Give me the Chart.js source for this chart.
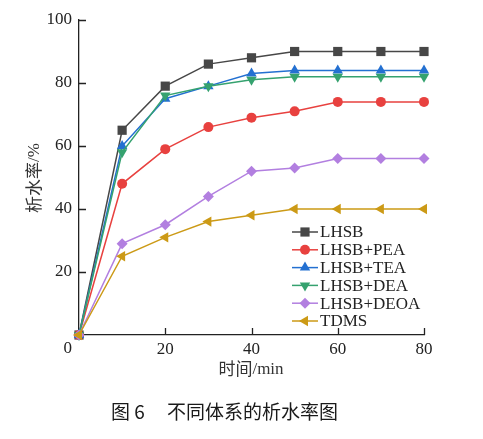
<!DOCTYPE html>
<html>
<head>
<meta charset="utf-8">
<script src="https://cdn.jsdelivr.net/npm/chart.js@4"></script>
<style>
  html, body { margin: 0; padding: 0; background: #fff; }
  #wrap { width: 483px; height: 439px; }
</style>
</head>
<body>
<div id="wrap"><canvas id="waterChart"></canvas></div>
<script>
// data
const times = [0, 10, 20, 30, 40, 50, 60, 70, 80]
const lhsb = [0, 65, 79, 86, 88, 90, 90, 90, 90]
const lhsbPea = [0, 48, 59, 66, 69, 71, 74, 74, 74]
const lhsbTea = [0, 60, 75, 79, 83, 84, 84, 84, 84]
const lhsbDea = [0, 58, 76, 79, 81, 82, 82, 82, 82]
const lhsbDeoa = [0, 29, 35, 44, 52, 53, 56, 56, 56]
const tdms = [0, 25, 31, 36, 38, 40, 40, 40, 40]
const seriesNames = ['LHSB', 'LHSB+PEA', 'LHSB+TEA', 'LHSB+DEA', 'LHSB+DEOA', 'TDMS']
const xTicks = [0, 20, 40, 60, 80]
const yTicks = [0, 20, 40, 60, 80, 100]

const serif = "'Liberation Serif', 'Times New Roman', serif"
const cjk = "'Noto Sans CJK SC', sans-serif"
const ink = '#222'

const styles = [
  { color: '#474747', point: 'rect', radius: 6.5, rotation: 0 },
  { color: '#e8413f', point: 'circle', radius: 5, rotation: 0 },
  { color: '#2370d1', point: 'triangle', radius: 6, rotation: 0 },
  { color: '#35a26f', point: 'triangle', radius: 6, rotation: 180 },
  { color: '#b27fe0', point: 'rectRot', radius: 5.5, rotation: 0 },
  { color: '#cc9a16', point: 'triangle', radius: 6, rotation: -90 },
]
const values = [lhsb, lhsbPea, lhsbTea, lhsbDea, lhsbDeoa, tdms]

const datasets = values.map((v, i) => ({
  label: seriesNames[i],
  data: v.map((y, j) => ({ x: times[j], y: y })),
  borderColor: styles[i].color,
  backgroundColor: styles[i].color,
  borderWidth: 1.5,
  pointStyle: styles[i].point,
  pointRadius: styles[i].radius,
  pointRotation: styles[i].rotation,
  pointBorderWidth: 0,
  tension: 0,
  clip: false,
  order: -i,
}))

// inward ticks, legend, axis titles, caption
const decor = {
  id: 'decor',
  afterDraw(chart) {
    const ctx = chart.ctx
    const xs = chart.scales.x
    const ys = chart.scales.y
    const a = chart.chartArea
    ctx.save()
    ctx.strokeStyle = ink
    ctx.lineWidth = 1.3
    ctx.beginPath()
    xTicks.forEach(t => {
      if (t === 0) return
      const px = Math.round(xs.getPixelForValue(t)) + 0.5
      ctx.moveTo(px, a.bottom)
      ctx.lineTo(px, a.bottom - 7)
    })
    yTicks.forEach(t => {
      if (t === 0) return
      const py = Math.round(ys.getPixelForValue(t)) + 0.5
      ctx.moveTo(a.left, py)
      ctx.lineTo(a.left + 7, py)
    })
    ctx.stroke()

    // shared origin label
    ctx.fillStyle = ink
    ctx.font = '17px ' + serif
    ctx.textAlign = 'right'
    ctx.textBaseline = 'middle'
    ctx.fillText('0', 72, 349)

    // legend
    ctx.textAlign = 'left'
    seriesNames.forEach((name, i) => {
      const y = 232 + i * 17.8
      ctx.strokeStyle = styles[i].color
      ctx.lineWidth = 1.5
      ctx.beginPath()
      ctx.moveTo(292, y)
      ctx.lineTo(318, y)
      ctx.stroke()
      ctx.fillStyle = styles[i].color
      Chart.helpers.drawPoint(ctx, {
        pointStyle: styles[i].point,
        radius: styles[i].radius,
        rotation: styles[i].rotation,
        borderWidth: 0,
      }, 305, y)
      ctx.fillStyle = ink
      ctx.font = '17px ' + serif
      ctx.fillText(name, 320, y + 1)
    })

    // x title
    ctx.fillStyle = '#333'
    ctx.textBaseline = 'middle'
    ctx.textAlign = 'left'
    ctx.font = '17px ' + cjk
    const w1 = ctx.measureText('时间').width
    ctx.font = '17px ' + serif
    const w2 = ctx.measureText('/min').width
    let sx = 251 - (w1 + w2) / 2
    ctx.font = '17px ' + cjk
    ctx.fillText('时间', sx, 369)
    ctx.font = '17px ' + serif
    ctx.fillText('/min', sx + w1, 370)

    // y title
    ctx.save()
    ctx.translate(34, 178)
    ctx.rotate(-Math.PI / 2)
    ctx.font = '17px ' + cjk
    const w3 = ctx.measureText('析水率').width
    ctx.font = '17px ' + serif
    const w4 = ctx.measureText('/%').width
    sx = -(w3 + w4) / 2
    ctx.font = '17px ' + cjk
    ctx.fillText('析水率', sx, 0)
    ctx.font = '17px ' + serif
    ctx.fillText('/%', sx + w3, 1)
    ctx.restore()

    // caption
    ctx.fillStyle = '#1a1a1a'
    ctx.font = '19px ' + cjk
    ctx.fillText('图 6', 111, 412)
    ctx.fillText('不同体系的析水率图', 167, 412)
    ctx.restore()
  }
}

const config = {
  type: 'line',
  data: { datasets: datasets },
  options: {
    responsive: true,
    maintainAspectRatio: false,
    animation: false,
    events: [],
    layout: { padding: { top: 20, right: 59, left: 0, bottom: 0 } },
    plugins: {
      legend: { display: false },
      tooltip: { enabled: false },
    },
    scales: {
      x: {
        type: 'linear',
        min: 0,
        max: 80,
        afterFit(scale) { scale.height = 104 },
        afterBuildTicks(scale) { scale.ticks = xTicks.map(v => ({ value: v })) },
        grid: { display: false, drawTicks: false },
        border: { display: true, color: ink, width: 1.3 },
        ticks: {
          padding: 4,
          color: ink,
          font: { family: serif, size: 17 },
          maxRotation: 0,
          callback: v => (v === 0 ? '' : v),
        },
      },
      y: {
        min: 0,
        max: 100,
        afterFit(scale) { scale.width = 79 },
        afterBuildTicks(scale) { scale.ticks = yTicks.map(v => ({ value: v })) },
        grid: { display: false, drawTicks: false },
        border: { display: true, color: ink, width: 1.3 },
        ticks: {
          padding: 7,
          color: ink,
          font: { family: serif, size: 17 },
          callback: v => (v === 0 ? '' : v),
        },
      },
    },
  },
  plugins: [decor],
}

const waterChart = new Chart(document.getElementById('waterChart'), config)
</script>
</body>
</html>
